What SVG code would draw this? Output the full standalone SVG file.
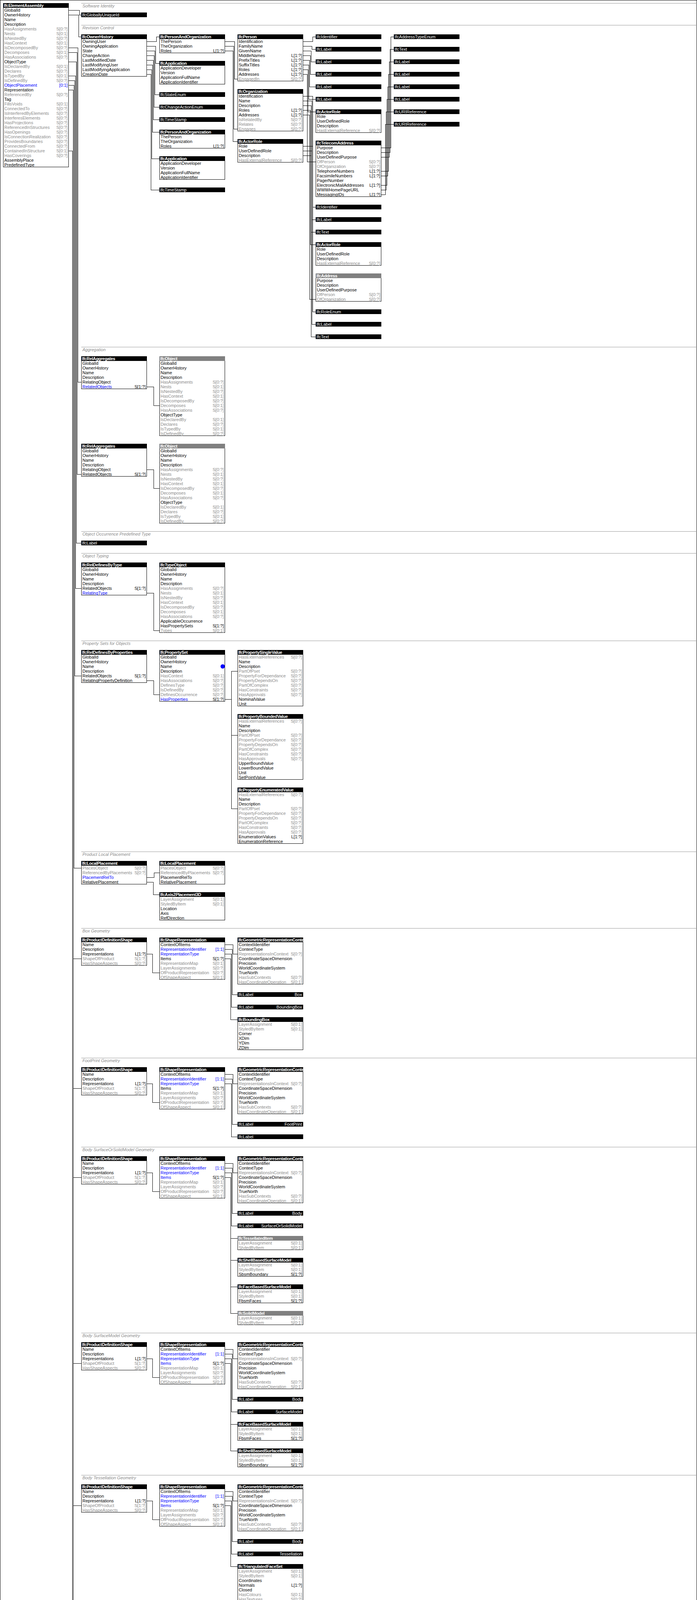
<svg xmlns="http://www.w3.org/2000/svg" width="1784" height="6164" viewBox="0 0 1784 6164">
<defs>
<style>
text{font-family:"Liberation Sans",Arial,sans-serif;font-size:11px;fill:#000}
.h{fill:#fff;font-weight:bold;letter-spacing:-0.35px}
.w{fill:#fff}
.g{fill:#8c8c8c}
.b{fill:#0000ff}
.r{text-anchor:end}
.s{fill:#8c8c8c;font-style:italic}
.bx{fill:#fff;stroke:#000;stroke-width:1}
.hg{fill:#808080}
.c{fill:none;stroke:#000;stroke-width:1}
.sl{fill:none;stroke:#999;stroke-width:1}
</style>
</defs>
<rect x="0" y="0" width="1784" height="6164" fill="#fff"/>
<rect x="0.5" y="0.5" width="1783" height="6163" fill="none" stroke="#000"/>

<g id="sections">
<path class="sl" d="M208 8.5H1784M208 64.5H1784M208 888.5H1784M208 1360.5H1784M208 1416.5H1784M208 1640.5H1784M208 2180.5H1784M208 2376.5H1784M208 2708.5H1784M208 2936.5H1784M208 3412.5H1784M208 3776.5H1784M208 4144.5H1784M208 4440.5H1784M208 4804.5H1784M208 5100.5H1784M208 5616.5H1784M208 5844.5H1784"/>
<text class="s" x="211" y="19">Software Identity</text>
<text class="s" x="211" y="75">Revision Control</text>
<text class="s" x="211" y="899">Aggregation</text>
<text class="s" x="211" y="1371">Object Occurrence Predefined Type</text>
<text class="s" x="211" y="1427">Object Typing</text>
<text class="s" x="211" y="1651">Property Sets for Objects</text>
<text class="s" x="211" y="2191">Product Local Placement</text>
<text class="s" x="211" y="2387">Box Geometry</text>
<text class="s" x="211" y="2719">FootPrint Geometry</text>
<text class="s" x="211" y="2947">Body SurfaceOrSolidModel Geometry</text>
<text class="s" x="211" y="3423">Body SurfaceModel Geometry</text>
<text class="s" x="211" y="3787">Body Tessellation Geometry</text>
<text class="s" x="211" y="4155">Body Brep Geometry</text>
<text class="s" x="211" y="4451">Body AdvancedBrep Geometry</text>
<text class="s" x="211" y="4815">Body CSG Geometry</text>
<text class="s" x="211" y="5111">Mapped Geometry</text>
<text class="s" x="211" y="5627">Mesh Geometry</text>
<text class="s" x="211" y="5855">Spatial Containment</text>
</g>

<g id="connectors" shape-rendering="crispEdges">
<path class="c" d="M176 26H203V38H208M176 38H201V94H208M176 122H199V978H208M176 134H197V1214H208M176 158H195V1390H208M176 194H193V1506H208M176 206H191V1730H208M176 218H189V2222H208M176 230H187V5694M176 386H185V5934H208"/>
<path class="c" d="M187 2454H208M187 2786H208M187 3014H208M187 3490H208M187 3854H208M187 4222H208M187 4518H208M187 4882H208M187 5178H208M187 5694H208"/>
<path class="c" d="M376 106H400V94H408M376 118H398V162H408M376 130H396V242H408M376 142H394V274H408M376 154H392V306H408M376 166H390V338H408M376 178H388V406H408M376 190H386V486H408"/>
<path class="c" d="M576 106H600V202H608M576 118H598V330H608M576 130H596V362H608"/>
<path class="c" d="M776 106H800V94H808M776 118H798V126H808M776 130H796V158H808M776 142H794V190H808M776 154H792V222H808M776 166H790V254H808M776 178H788V286H808M776 190H786V414H808"/>
<path class="c" d="M776 246H800V530H808M776 258H798V562H808M776 270H796V594H808M776 282H794V626H808M776 294H792V766H808"/>
<path class="c" d="M776 374H800V798H808M776 386H798V830H808M776 398H796V862H808"/>
<path class="c" d="M976 378H1000V94H1008M976 390H998V126H1008M976 402H996V158H1008M976 438H994V190H1008M976 450H992V222H1008M976 474H990V254H1008M976 486H988V286H1008M976 498H986V318H1008"/>
<path class="c" d="M376 990H393V1038H408M376 1202H393V1250H408M376 1518H393V1614H408M376 1742H393V1778H408M576 1790H592M592 1718V2070M592 1718H608M592 1882H608M592 2070H608"/>
<path class="c" d="M376 2246H394V2234H408M376 2258H392V2290H408"/>
<path class="c" d="M376 2442H390V2490H408M576 2418H596V2442H608M576 2430H594V2546H608M576 2442H592V2578H608M576 2454H590V2610H608"/>
<path class="c" d="M376 2774H390V2822H408M576 2750H596V2774H608M576 2762H594V2878H608M576 2774H592V2910H608"/>
<path class="c" d="M376 3002H390V3050H408M576 2978H596V3002H608M576 2990H594V3106H608M576 3002H592V3138H608M576 3014H590V3362H608M590 3170H608M590 3226H608M590 3294H608"/>
<path class="c" d="M376 3478H390V3526H408M576 3454H596V3478H608M576 3466H594V3582H608M576 3478H592V3614H608M576 3490H590V3714H608M590 3646H608"/>
<path class="c" d="M376 3842H390V3890H408M576 3818H596V3842H608M576 3830H594V3946H608M576 3842H592V3978H608M576 3854H590V4010H608"/>
<path class="c" d="M376 4210H390V4258H408M576 4186H596V4210H608M576 4198H594V4314H608M576 4210H592V4346H608M576 4222H590V4378H608"/>
<path class="c" d="M776 4414H792V4174H808M976 4210H992V4174H1008M1176 4210H1192V4174H1208M1376 4210H1394V4174H1408M1376 4222H1392V4242H1408M1576 4210H1592V4174H1608"/>
<path class="c" d="M376 4506H390V4554H408M576 4482H596V4506H608M576 4494H594V4610H608M576 4506H592V4642H608M576 4518H590V4742H608M590 4674H608"/>
<path class="c" d="M376 4870H390V4918H408M576 4846H596V4870H608M576 4858H594V4974H608M576 4870H592V5006H608M576 4882H590V5038H608"/>
<path class="c" d="M376 5166H390V5214H408M576 5142H596V5166H608M576 5154H594V5270H608M576 5166H592V5302H608M576 5178H590V5334H608"/>
<path class="c" d="M776 5370H792V5178H808M776 5382H794V5210H808M794 5326H808M976 5142H994V5130H1008M976 5154H992V5282H1008M1176 5166H1194V5130H1208M1176 5178H1192V5198H1208M1176 5190H1190V5266H1208"/>
<path class="c" d="M976 5246H997V5350H1008M976 5258H990V5418H1008M976 5270H988V5486H1008M976 5294H986V5554H1008"/>
<path class="c" d="M376 5682H390V5730H408M576 5658H596V5682H608M576 5670H594V5786H608M576 5682H592V5818H608"/>
<path class="c" d="M376 5946H393V6126H408"/>
</g>

<g id="n_root" transform="translate(8,8)"><svg width="168" height="420"><rect class="bx" x=".5" y=".5" width="167" height="419"/><rect width="168" height="12"/><text class="h" x="2" y="10">IfcElementAssembly</text>
<text x="3" y="22">GlobalId</text><text x="3" y="34">OwnerHistory</text><text x="3" y="46">Name</text><text x="3" y="58">Description</text>
<text class="g" x="3" y="70">HasAssignments</text><text class="g r" x="165" y="70">S[0:?]</text>
<text class="g" x="3" y="82">Nests</text><text class="g r" x="165" y="82">S[0:1]</text>
<text class="g" x="3" y="94">IsNestedBy</text><text class="g r" x="165" y="94">S[0:?]</text>
<text class="g" x="3" y="106">HasContext</text><text class="g r" x="165" y="106">S[0:1]</text>
<text class="g" x="3" y="118">IsDecomposedBy</text><text class="g r" x="165" y="118">S[0:?]</text>
<text class="g" x="3" y="130">Decomposes</text><text class="g r" x="165" y="130">S[0:1]</text>
<text class="g" x="3" y="142">HasAssociations</text><text class="g r" x="165" y="142">S[0:?]</text>
<text x="3" y="154">ObjectType</text>
<text class="g" x="3" y="166">IsDeclaredBy</text><text class="g r" x="165" y="166">S[0:1]</text>
<text class="g" x="3" y="178">Declares</text><text class="g r" x="165" y="178">S[0:?]</text>
<text class="g" x="3" y="190">IsTypedBy</text><text class="g r" x="165" y="190">S[0:1]</text>
<text class="g" x="3" y="202">IsDefinedBy</text><text class="g r" x="165" y="202">S[0:?]</text>
<text class="b" x="3" y="214">ObjectPlacement</text><text class="b r" x="165" y="214">[0:1]</text>
<text x="3" y="226">Representation</text>
<text class="g" x="3" y="238">ReferencedBy</text><text class="g r" x="165" y="238">S[0:?]</text>
<text x="3" y="250">Tag</text>
<text class="g" x="3" y="262">FillsVoids</text><text class="g r" x="165" y="262">S[0:1]</text>
<text class="g" x="3" y="274">ConnectedTo</text><text class="g r" x="165" y="274">S[0:?]</text>
<text class="g" x="3" y="286">IsInterferedByElements</text><text class="g r" x="165" y="286">S[0:?]</text>
<text class="g" x="3" y="298">InterferesElements</text><text class="g r" x="165" y="298">S[0:?]</text>
<text class="g" x="3" y="310">HasProjections</text><text class="g r" x="165" y="310">S[0:?]</text>
<text class="g" x="3" y="322">ReferencedInStructures</text><text class="g r" x="165" y="322">S[0:?]</text>
<text class="g" x="3" y="334">HasOpenings</text><text class="g r" x="165" y="334">S[0:?]</text>
<text class="g" x="3" y="346">IsConnectionRealization</text><text class="g r" x="165" y="346">S[0:?]</text>
<text class="g" x="3" y="358">ProvidesBoundaries</text><text class="g r" x="165" y="358">S[0:?]</text>
<text class="g" x="3" y="370">ConnectedFrom</text><text class="g r" x="165" y="370">S[0:?]</text>
<text class="g" x="3" y="382">ContainedInStructure</text><text class="g r" x="165" y="382">S[0:1]</text>
<text class="g" x="3" y="394">HasCoverings</text><text class="g r" x="165" y="394">S[0:?]</text>
<text x="3" y="406">AssemblyPlace</text><text x="3" y="418">PredefinedType</text>
</svg></g>

<g id="n_guid" transform="translate(208,32)"><rect width="168" height="12"/><text class="w" x="2" y="10">IfcGloballyUniqueId</text></g>

<g id="n_ownerhistory" transform="translate(208,88)"><svg width="168" height="108"><rect class="bx" x=".5" y=".5" width="167" height="107"/><rect width="168" height="12"/><text class="h" x="2" y="10">IfcOwnerHistory</text>
<text x="3" y="22">OwningUser</text><text x="3" y="34">OwningApplication</text><text x="3" y="46">State</text><text x="3" y="58">ChangeAction</text><text x="3" y="70">LastModifiedDate</text><text x="3" y="82">LastModifyingUser</text><text x="3" y="94">LastModifyingApplication</text><text x="3" y="106">CreationDate</text>
</svg></g>

<g id="n_pao1" transform="translate(408,88)"><svg width="168" height="48"><rect class="bx" x=".5" y=".5" width="167" height="47"/><rect width="168" height="12"/><text class="h" x="2" y="10">IfcPersonAndOrganization</text>
<text x="3" y="22">ThePerson</text><text x="3" y="34">TheOrganization</text><text x="3" y="46">Roles</text><text class="r" x="165" y="46">L[1:?]</text></svg></g>
<g id="n_app1" transform="translate(408,156)"><svg width="168" height="60"><rect class="bx" x=".5" y=".5" width="167" height="59"/><rect width="168" height="12"/><text class="h" x="2" y="10">IfcApplication</text>
<text x="3" y="22">ApplicationDeveloper</text><text x="3" y="34">Version</text><text x="3" y="46">ApplicationFullName</text><text x="3" y="58">ApplicationIdentifier</text></svg></g>
<g id="n_stateenum" transform="translate(408,236)"><rect width="168" height="12"/><text class="w" x="2" y="10">IfcStateEnum</text></g>
<g id="n_changeenum" transform="translate(408,268)"><rect width="168" height="12"/><text class="w" x="2" y="10">IfcChangeActionEnum</text></g>
<g id="n_ts1" transform="translate(408,300)"><rect width="168" height="12"/><text class="w" x="2" y="10">IfcTimeStamp</text></g>
<g id="n_pao2" transform="translate(408,332)"><svg width="168" height="48"><rect class="bx" x=".5" y=".5" width="167" height="47"/><rect width="168" height="12"/><text class="h" x="2" y="10">IfcPersonAndOrganization</text>
<text x="3" y="22">ThePerson</text><text x="3" y="34">TheOrganization</text><text x="3" y="46">Roles</text><text class="r" x="165" y="46">L[1:?]</text></svg></g>
<g id="n_app2" transform="translate(408,400)"><svg width="168" height="60"><rect class="bx" x=".5" y=".5" width="167" height="59"/><rect width="168" height="12"/><text class="h" x="2" y="10">IfcApplication</text>
<text x="3" y="22">ApplicationDeveloper</text><text x="3" y="34">Version</text><text x="3" y="46">ApplicationFullName</text><text x="3" y="58">ApplicationIdentifier</text></svg></g>
<g id="n_ts2" transform="translate(408,480)"><rect width="168" height="12"/><text class="w" x="2" y="10">IfcTimeStamp</text></g>

<g id="n_person" transform="translate(608,88)"><svg width="168" height="120"><rect class="bx" x=".5" y=".5" width="167" height="119"/><rect width="168" height="12"/><text class="h" x="2" y="10">IfcPerson</text>
<text x="3" y="22">Identification</text><text x="3" y="34">FamilyName</text><text x="3" y="46">GivenName</text>
<text x="3" y="58">MiddleNames</text><text class="r" x="165" y="58">L[1:?]</text>
<text x="3" y="70">PrefixTitles</text><text class="r" x="165" y="70">L[1:?]</text>
<text x="3" y="82">SuffixTitles</text><text class="r" x="165" y="82">L[1:?]</text>
<text x="3" y="94">Roles</text><text class="r" x="165" y="94">L[1:?]</text>
<text x="3" y="106">Addresses</text><text class="r" x="165" y="106">L[1:?]</text>
<text class="g" x="3" y="118">EngagedIn</text><text class="g r" x="165" y="118">S[0:?]</text></svg></g>
<g id="n_org" transform="translate(608,228)"><svg width="168" height="108"><rect class="bx" x=".5" y=".5" width="167" height="107"/><rect width="168" height="12"/><text class="h" x="2" y="10">IfcOrganization</text>
<text x="3" y="22">Identification</text><text x="3" y="34">Name</text><text x="3" y="46">Description</text>
<text x="3" y="58">Roles</text><text class="r" x="165" y="58">L[1:?]</text>
<text x="3" y="70">Addresses</text><text class="r" x="165" y="70">L[1:?]</text>
<text class="g" x="3" y="82">IsRelatedBy</text><text class="g r" x="165" y="82">S[0:?]</text>
<text class="g" x="3" y="94">Relates</text><text class="g r" x="165" y="94">S[0:?]</text>
<text class="g" x="3" y="106">Engages</text><text class="g r" x="165" y="106">S[0:?]</text></svg></g>
<g id="n_role1" transform="translate(608,356)"><svg width="168" height="60"><rect class="bx" x=".5" y=".5" width="167" height="59"/><rect width="168" height="12"/><text class="h" x="2" y="10">IfcActorRole</text>
<text x="3" y="22">Role</text><text x="3" y="34">UserDefinedRole</text><text x="3" y="46">Description</text><text class="g" x="3" y="58">HasExternalReference</text><text class="g r" x="165" y="58">S[0:?]</text></svg></g>

<g id="n_c4_id1" transform="translate(808,88)"><rect width="168" height="12"/><text class="w" x="2" y="10">IfcIdentifier</text></g>
<g id="n_c4_l1" transform="translate(808,120)"><rect width="168" height="12"/><text class="w" x="2" y="10">IfcLabel</text></g>
<g id="n_c4_l2" transform="translate(808,152)"><rect width="168" height="12"/><text class="w" x="2" y="10">IfcLabel</text></g>
<g id="n_c4_l3" transform="translate(808,184)"><rect width="168" height="12"/><text class="w" x="2" y="10">IfcLabel</text></g>
<g id="n_c4_l4" transform="translate(808,216)"><rect width="168" height="12"/><text class="w" x="2" y="10">IfcLabel</text></g>
<g id="n_c4_l5" transform="translate(808,248)"><rect width="168" height="12"/><text class="w" x="2" y="10">IfcLabel</text></g>
<g id="n_role2" transform="translate(808,280)"><svg width="168" height="60"><rect class="bx" x=".5" y=".5" width="167" height="59"/><rect width="168" height="12"/><text class="h" x="2" y="10">IfcActorRole</text>
<text x="3" y="22">Role</text><text x="3" y="34">UserDefinedRole</text><text x="3" y="46">Description</text><text class="g" x="3" y="58">HasExternalReference</text><text class="g r" x="165" y="58">S[0:?]</text></svg></g>
<g id="n_telecom" transform="translate(808,360)"><svg width="168" height="144"><rect class="bx" x=".5" y=".5" width="167" height="143"/><rect width="168" height="12"/><text class="h" x="2" y="10">IfcTelecomAddress</text>
<text x="3" y="22">Purpose</text><text x="3" y="34">Description</text><text x="3" y="46">UserDefinedPurpose</text>
<text class="g" x="3" y="58">OfPerson</text><text class="g r" x="165" y="58">S[0:?]</text>
<text class="g" x="3" y="70">OfOrganization</text><text class="g r" x="165" y="70">S[0:?]</text>
<text x="3" y="82">TelephoneNumbers</text><text class="r" x="165" y="82">L[1:?]</text>
<text x="3" y="94">FacsimileNumbers</text><text class="r" x="165" y="94">L[1:?]</text>
<text x="3" y="106">PagerNumber</text>
<text x="3" y="118">ElectronicMailAddresses</text><text class="r" x="165" y="118">L[1:?]</text>
<text x="3" y="130">WWWHomePageURL</text>
<text x="3" y="142">MessagingIDs</text><text class="r" x="165" y="142">L[1:?]</text></svg></g>
<g id="n_c4_id2" transform="translate(808,524)"><rect width="168" height="12"/><text class="w" x="2" y="10">IfcIdentifier</text></g>
<g id="n_c4_l6" transform="translate(808,556)"><rect width="168" height="12"/><text class="w" x="2" y="10">IfcLabel</text></g>
<g id="n_c4_t1" transform="translate(808,588)"><rect width="168" height="12"/><text class="w" x="2" y="10">IfcText</text></g>
<g id="n_role3" transform="translate(808,620)"><svg width="168" height="60"><rect class="bx" x=".5" y=".5" width="167" height="59"/><rect width="168" height="12"/><text class="h" x="2" y="10">IfcActorRole</text>
<text x="3" y="22">Role</text><text x="3" y="34">UserDefinedRole</text><text x="3" y="46">Description</text><text class="g" x="3" y="58">HasExternalReference</text><text class="g r" x="165" y="58">S[0:?]</text></svg></g>
<g id="n_address" transform="translate(808,700)"><svg width="168" height="72"><rect class="bx" x=".5" y=".5" width="167" height="71"/><rect class="hg" width="168" height="12"/><text class="h" x="2" y="10">IfcAddress</text>
<text x="3" y="22">Purpose</text><text x="3" y="34">Description</text><text x="3" y="46">UserDefinedPurpose</text>
<text class="g" x="3" y="58">OfPerson</text><text class="g r" x="165" y="58">S[0:?]</text>
<text class="g" x="3" y="70">OfOrganization</text><text class="g r" x="165" y="70">S[0:?]</text></svg></g>
<g id="n_roleenum" transform="translate(808,792)"><rect width="168" height="12"/><text class="w" x="2" y="10">IfcRoleEnum</text></g>
<g id="n_c4_l7" transform="translate(808,824)"><rect width="168" height="12"/><text class="w" x="2" y="10">IfcLabel</text></g>
<g id="n_c4_t2" transform="translate(808,856)"><rect width="168" height="12"/><text class="w" x="2" y="10">IfcText</text></g>

<g id="n_c5_ate" transform="translate(1008,88)"><rect width="168" height="12"/><text class="w" x="2" y="10">IfcAddressTypeEnum</text></g>
<g id="n_c5_t" transform="translate(1008,120)"><rect width="168" height="12"/><text class="w" x="2" y="10">IfcText</text></g>
<g id="n_c5_l1" transform="translate(1008,152)"><rect width="168" height="12"/><text class="w" x="2" y="10">IfcLabel</text></g>
<g id="n_c5_l2" transform="translate(1008,184)"><rect width="168" height="12"/><text class="w" x="2" y="10">IfcLabel</text></g>
<g id="n_c5_l3" transform="translate(1008,216)"><rect width="168" height="12"/><text class="w" x="2" y="10">IfcLabel</text></g>
<g id="n_c5_l4" transform="translate(1008,248)"><rect width="168" height="12"/><text class="w" x="2" y="10">IfcLabel</text></g>
<g id="n_c5_u1" transform="translate(1008,280)"><rect width="168" height="12"/><text class="w" x="2" y="10">IfcURIReference</text></g>
<g id="n_c5_u2" transform="translate(1008,312)"><rect width="168" height="12"/><text class="w" x="2" y="10">IfcURIReference</text></g>

<g id="n_relagg1" transform="translate(208,912)"><svg width="168" height="84"><rect class="bx" x=".5" y=".5" width="167" height="83"/><rect width="168" height="12"/><text class="h" x="2" y="10">IfcRelAggregates</text>
<text x="3" y="22">GlobalId</text><text x="3" y="34">OwnerHistory</text><text x="3" y="46">Name</text><text x="3" y="58">Description</text><text x="3" y="70">RelatingObject</text><text class="b" x="3" y="82">RelatedObjects</text><text class="r" x="165" y="82">S[1:?]</text></svg></g>
<g id="n_obj1" transform="translate(408,912)"><svg width="168" height="204"><rect class="bx" x=".5" y=".5" width="167" height="203"/><rect class="hg" width="168" height="12"/><text class="h" x="2" y="10">IfcObject</text>
<text x="3" y="22">GlobalId</text><text x="3" y="34">OwnerHistory</text><text x="3" y="46">Name</text><text x="3" y="58">Description</text>
<text class="g" x="3" y="70">HasAssignments</text><text class="g r" x="165" y="70">S[0:?]</text>
<text class="g" x="3" y="82">Nests</text><text class="g r" x="165" y="82">S[0:1]</text>
<text class="g" x="3" y="94">IsNestedBy</text><text class="g r" x="165" y="94">S[0:?]</text>
<text class="g" x="3" y="106">HasContext</text><text class="g r" x="165" y="106">S[0:1]</text>
<text class="g" x="3" y="118">IsDecomposedBy</text><text class="g r" x="165" y="118">S[0:?]</text>
<text class="g" x="3" y="130">Decomposes</text><text class="g r" x="165" y="130">S[0:1]</text>
<text class="g" x="3" y="142">HasAssociations</text><text class="g r" x="165" y="142">S[0:?]</text>
<text x="3" y="154">ObjectType</text>
<text class="g" x="3" y="166">IsDeclaredBy</text><text class="g r" x="165" y="166">S[0:1]</text>
<text class="g" x="3" y="178">Declares</text><text class="g r" x="165" y="178">S[0:?]</text>
<text class="g" x="3" y="190">IsTypedBy</text><text class="g r" x="165" y="190">S[0:1]</text>
<text class="g" x="3" y="202">IsDefinedBy</text><text class="g r" x="165" y="202">S[0:?]</text></svg></g>
<g id="n_relagg2" transform="translate(208,1136)"><svg width="168" height="84"><rect class="bx" x=".5" y=".5" width="167" height="83"/><rect width="168" height="12"/><text class="h" x="2" y="10">IfcRelAggregates</text>
<text x="3" y="22">GlobalId</text><text x="3" y="34">OwnerHistory</text><text x="3" y="46">Name</text><text x="3" y="58">Description</text><text x="3" y="70">RelatingObject</text><text x="3" y="82">RelatedObjects</text><text class="r" x="165" y="82">S[1:?]</text></svg></g>
<g id="n_obj2" transform="translate(408,1136)"><svg width="168" height="204"><rect class="bx" x=".5" y=".5" width="167" height="203"/><rect class="hg" width="168" height="12"/><text class="h" x="2" y="10">IfcObject</text>
<text x="3" y="22">GlobalId</text><text x="3" y="34">OwnerHistory</text><text x="3" y="46">Name</text><text x="3" y="58">Description</text>
<text class="g" x="3" y="70">HasAssignments</text><text class="g r" x="165" y="70">S[0:?]</text>
<text class="g" x="3" y="82">Nests</text><text class="g r" x="165" y="82">S[0:1]</text>
<text class="g" x="3" y="94">IsNestedBy</text><text class="g r" x="165" y="94">S[0:?]</text>
<text class="g" x="3" y="106">HasContext</text><text class="g r" x="165" y="106">S[0:1]</text>
<text class="g" x="3" y="118">IsDecomposedBy</text><text class="g r" x="165" y="118">S[0:?]</text>
<text class="g" x="3" y="130">Decomposes</text><text class="g r" x="165" y="130">S[0:1]</text>
<text class="g" x="3" y="142">HasAssociations</text><text class="g r" x="165" y="142">S[0:?]</text>
<text x="3" y="154">ObjectType</text>
<text class="g" x="3" y="166">IsDeclaredBy</text><text class="g r" x="165" y="166">S[0:1]</text>
<text class="g" x="3" y="178">Declares</text><text class="g r" x="165" y="178">S[0:?]</text>
<text class="g" x="3" y="190">IsTypedBy</text><text class="g r" x="165" y="190">S[0:1]</text>
<text class="g" x="3" y="202">IsDefinedBy</text><text class="g r" x="165" y="202">S[0:?]</text></svg></g>

<g id="n_ootype" transform="translate(208,1384)"><rect width="168" height="12"/><text class="w" x="2" y="10">IfcLabel</text></g>

<g id="n_reltype" transform="translate(208,1440)"><svg width="168" height="84"><rect class="bx" x=".5" y=".5" width="167" height="83"/><rect width="168" height="12"/><text class="h" x="2" y="10">IfcRelDefinesByType</text>
<text x="3" y="22">GlobalId</text><text x="3" y="34">OwnerHistory</text><text x="3" y="46">Name</text><text x="3" y="58">Description</text><text x="3" y="70">RelatedObjects</text><text class="r" x="165" y="70">S[1:?]</text><text class="b" x="3" y="82">RelatingType</text></svg></g>
<g id="n_typeobj" transform="translate(408,1440)"><svg width="168" height="180"><rect class="bx" x=".5" y=".5" width="167" height="179"/><rect width="168" height="12"/><text class="h" x="2" y="10">IfcTypeObject</text>
<text x="3" y="22">GlobalId</text><text x="3" y="34">OwnerHistory</text><text x="3" y="46">Name</text><text x="3" y="58">Description</text>
<text class="g" x="3" y="70">HasAssignments</text><text class="g r" x="165" y="70">S[0:?]</text>
<text class="g" x="3" y="82">Nests</text><text class="g r" x="165" y="82">S[0:1]</text>
<text class="g" x="3" y="94">IsNestedBy</text><text class="g r" x="165" y="94">S[0:?]</text>
<text class="g" x="3" y="106">HasContext</text><text class="g r" x="165" y="106">S[0:1]</text>
<text class="g" x="3" y="118">IsDecomposedBy</text><text class="g r" x="165" y="118">S[0:?]</text>
<text class="g" x="3" y="130">Decomposes</text><text class="g r" x="165" y="130">S[0:1]</text>
<text class="g" x="3" y="142">HasAssociations</text><text class="g r" x="165" y="142">S[0:?]</text>
<text x="3" y="154">ApplicableOccurrence</text>
<text x="3" y="166">HasPropertySets</text><text class="r" x="165" y="166">S[1:?]</text>
<text class="g" x="3" y="178">Types</text><text class="g r" x="165" y="178">S[0:1]</text></svg></g>

<g id="n_relprops" transform="translate(208,1664)"><svg width="168" height="84"><rect class="bx" x=".5" y=".5" width="167" height="83"/><rect width="168" height="12"/><text class="h" x="2" y="10">IfcRelDefinesByProperties</text>
<text x="3" y="22">GlobalId</text><text x="3" y="34">OwnerHistory</text><text x="3" y="46">Name</text><text x="3" y="58">Description</text><text x="3" y="70">RelatedObjects</text><text class="r" x="165" y="70">S[1:?]</text><text x="3" y="82">RelatingPropertyDefinition</text></svg></g>
<g id="n_pset" transform="translate(408,1664)"><svg width="168" height="132"><rect class="bx" x=".5" y=".5" width="167" height="131"/><rect width="168" height="12"/><text class="h" x="2" y="10">IfcPropertySet</text>
<text x="3" y="22">GlobalId</text><text x="3" y="34">OwnerHistory</text><text x="3" y="46">Name</text><circle cx="162" cy="42" r="5.5" fill="#0000ff"/><text x="3" y="58">Description</text>
<text class="g" x="3" y="70">HasContext</text><text class="g r" x="165" y="70">S[0:1]</text>
<text class="g" x="3" y="82">HasAssociations</text><text class="g r" x="165" y="82">S[0:?]</text>
<text class="g" x="3" y="94">DefinesType</text><text class="g r" x="165" y="94">S[0:?]</text>
<text class="g" x="3" y="106">IsDefinedBy</text><text class="g r" x="165" y="106">S[0:?]</text>
<text class="g" x="3" y="118">DefinesOccurrence</text><text class="g r" x="165" y="118">S[0:?]</text>
<text class="b" x="3" y="130">HasProperties</text><text class="r" x="165" y="130">S[1:?]</text></svg></g>
<g id="n_psingle" transform="translate(608,1664)"><svg width="168" height="144"><rect class="bx" x=".5" y=".5" width="167" height="143"/><rect width="168" height="12"/><text class="h" x="2" y="10">IfcPropertySingleValue</text>
<text class="g" x="3" y="22">HasExternalReferences</text><text class="g r" x="165" y="22">S[0:?]</text>
<text x="3" y="34">Name</text><text x="3" y="46">Description</text>
<text class="g" x="3" y="58">PartOfPset</text><text class="g r" x="165" y="58">S[0:?]</text>
<text class="g" x="3" y="70">PropertyForDependance</text><text class="g r" x="165" y="70">S[0:?]</text>
<text class="g" x="3" y="82">PropertyDependsOn</text><text class="g r" x="165" y="82">S[0:?]</text>
<text class="g" x="3" y="94">PartOfComplex</text><text class="g r" x="165" y="94">S[0:?]</text>
<text class="g" x="3" y="106">HasConstraints</text><text class="g r" x="165" y="106">S[0:?]</text>
<text class="g" x="3" y="118">HasApprovals</text><text class="g r" x="165" y="118">S[0:?]</text>
<text x="3" y="130">NominalValue</text><text x="3" y="142">Unit</text></svg></g>
<g id="n_pbounded" transform="translate(608,1828)"><svg width="168" height="168"><rect class="bx" x=".5" y=".5" width="167" height="167"/><rect width="168" height="12"/><text class="h" x="2" y="10">IfcPropertyBoundedValue</text>
<text class="g" x="3" y="22">HasExternalReferences</text><text class="g r" x="165" y="22">S[0:?]</text>
<text x="3" y="34">Name</text><text x="3" y="46">Description</text>
<text class="g" x="3" y="58">PartOfPset</text><text class="g r" x="165" y="58">S[0:?]</text>
<text class="g" x="3" y="70">PropertyForDependance</text><text class="g r" x="165" y="70">S[0:?]</text>
<text class="g" x="3" y="82">PropertyDependsOn</text><text class="g r" x="165" y="82">S[0:?]</text>
<text class="g" x="3" y="94">PartOfComplex</text><text class="g r" x="165" y="94">S[0:?]</text>
<text class="g" x="3" y="106">HasConstraints</text><text class="g r" x="165" y="106">S[0:?]</text>
<text class="g" x="3" y="118">HasApprovals</text><text class="g r" x="165" y="118">S[0:?]</text>
<text x="3" y="130">UpperBoundValue</text><text x="3" y="142">LowerBoundValue</text><text x="3" y="154">Unit</text><text x="3" y="166">SetPointValue</text></svg></g>
<g id="n_penum" transform="translate(608,2016)"><svg width="168" height="144"><rect class="bx" x=".5" y=".5" width="167" height="143"/><rect width="168" height="12"/><text class="h" x="2" y="10">IfcPropertyEnumeratedValue</text>
<text class="g" x="3" y="22">HasExternalReferences</text><text class="g r" x="165" y="22">S[0:?]</text>
<text x="3" y="34">Name</text><text x="3" y="46">Description</text>
<text class="g" x="3" y="58">PartOfPset</text><text class="g r" x="165" y="58">S[0:?]</text>
<text class="g" x="3" y="70">PropertyForDependance</text><text class="g r" x="165" y="70">S[0:?]</text>
<text class="g" x="3" y="82">PropertyDependsOn</text><text class="g r" x="165" y="82">S[0:?]</text>
<text class="g" x="3" y="94">PartOfComplex</text><text class="g r" x="165" y="94">S[0:?]</text>
<text class="g" x="3" y="106">HasConstraints</text><text class="g r" x="165" y="106">S[0:?]</text>
<text class="g" x="3" y="118">HasApprovals</text><text class="g r" x="165" y="118">S[0:?]</text>
<text x="3" y="130">EnumerationValues</text><text class="r" x="165" y="130">L[1:?]</text><text x="3" y="142">EnumerationReference</text></svg></g>

<g id="n_lp1" transform="translate(208,2204)"><svg width="168" height="60"><rect class="bx" x=".5" y=".5" width="167" height="59"/><rect width="168" height="12"/><text class="h" x="2" y="10">IfcLocalPlacement</text>
<text class="g" x="3" y="22">PlacesObject</text><text class="g r" x="165" y="22">S[0:?]</text>
<text class="g" x="3" y="34">ReferencedByPlacements</text><text class="g r" x="165" y="34">S[0:?]</text>
<text class="b" x="3" y="46">PlacementRelTo</text><text x="3" y="58">RelativePlacement</text></svg></g>
<g id="n_lp2" transform="translate(408,2204)"><svg width="168" height="60"><rect class="bx" x=".5" y=".5" width="167" height="59"/><rect width="168" height="12"/><text class="h" x="2" y="10">IfcLocalPlacement</text>
<text class="g" x="3" y="22">PlacesObject</text><text class="g r" x="165" y="22">S[0:?]</text>
<text class="g" x="3" y="34">ReferencedByPlacements</text><text class="g r" x="165" y="34">S[0:?]</text>
<text x="3" y="46">PlacementRelTo</text><text x="3" y="58">RelativePlacement</text></svg></g>
<g id="n_a2p1" transform="translate(408,2284)"><svg width="168" height="72"><rect class="bx" x=".5" y=".5" width="167" height="71"/><rect width="168" height="12"/><text class="h" x="2" y="10">IfcAxis2Placement3D</text>
<text class="g" x="3" y="22">LayerAssignment</text><text class="g r" x="165" y="22">S[0:1]</text>
<text class="g" x="3" y="34">StyledByItem</text><text class="g r" x="165" y="34">S[0:1]</text>
<text x="3" y="46">Location</text><text x="3" y="58">Axis</text><text x="3" y="70">RefDirection</text></svg></g>

<g id="n_pds_box" transform="translate(208,2400)"><svg width="168" height="72"><rect class="bx" x=".5" y=".5" width="167" height="71"/><rect width="168" height="12"/><text class="h" x="2" y="10">IfcProductDefinitionShape</text><text x="3" y="22">Name</text><text x="3" y="34">Description</text><text x="3" y="46">Representations</text><text class="r" x="165" y="46">L[1:?]</text><text class="g" x="3" y="58">ShapeOfProduct</text><text class="g r" x="165" y="58">S[1:?]</text><text class="g" x="3" y="70">HasShapeAspects</text><text class="g r" x="165" y="70">S[0:?]</text></svg></g>
<g id="n_sr_box" transform="translate(408,2400)"><svg width="168" height="108"><rect class="bx" x=".5" y=".5" width="167" height="107"/><rect width="168" height="12"/><text class="h" x="2" y="10">IfcShapeRepresentation</text><text x="3" y="22">ContextOfItems</text><text class="b" x="3" y="34">RepresentationIdentifier</text><text class="b r" x="165" y="34">[1:1]</text><text class="b" x="3" y="46">RepresentationType</text><text x="3" y="58">Items</text><text class="r" x="165" y="58">S[1:?]</text><text class="g" x="3" y="70">RepresentationMap</text><text class="g r" x="165" y="70">S[0:1]</text><text class="g" x="3" y="82">LayerAssignments</text><text class="g r" x="165" y="82">S[0:?]</text><text class="g" x="3" y="94">OfProductRepresentation</text><text class="g r" x="165" y="94">S[0:?]</text><text class="g" x="3" y="106">OfShapeAspect</text><text class="g r" x="165" y="106">S[0:1]</text></svg></g>
<g id="n_grc_box" transform="translate(608,2400)"><svg width="168" height="120"><rect class="bx" x=".5" y=".5" width="167" height="119"/><rect width="168" height="12"/><text class="h" x="2" y="10">IfcGeometricRepresentationContext</text><text x="3" y="22">ContextIdentifier</text><text x="3" y="34">ContextType</text><text class="g" x="3" y="46">RepresentationsInContext</text><text class="g r" x="165" y="46">S[0:?]</text><text x="3" y="58">CoordinateSpaceDimension</text><text x="3" y="70">Precision</text><text x="3" y="82">WorldCoordinateSystem</text><text x="3" y="94">TrueNorth</text><text class="g" x="3" y="106">HasSubContexts</text><text class="g r" x="165" y="106">S[0:?]</text><text class="g" x="3" y="118">HasCoordinateOperation</text><text class="g r" x="165" y="118">S[0:1]</text></svg></g>
<g id="n_lbl_box1" transform="translate(608,2540)"><rect width="168" height="12"/><text class="w" x="2" y="10">IfcLabel</text><text class="w r" x="165" y="10">Box</text></g>
<g id="n_lbl_box2" transform="translate(608,2572)"><rect width="168" height="12"/><text class="w" x="2" y="10">IfcLabel</text><text class="w r" x="165" y="10">BoundingBox</text></g>
<g id="n_bbox" transform="translate(608,2604)"><svg width="168" height="84"><rect class="bx" x=".5" y=".5" width="167" height="83"/><rect width="168" height="12"/><text class="h" x="2" y="10">IfcBoundingBox</text><text class="g" x="3" y="22">LayerAssignment</text><text class="g r" x="165" y="22">S[0:1]</text><text class="g" x="3" y="34">StyledByItem</text><text class="g r" x="165" y="34">S[0:1]</text><text x="3" y="46">Corner</text><text x="3" y="58">XDim</text><text x="3" y="70">YDim</text><text x="3" y="82">ZDim</text></svg></g>

<g id="n_pds_fp" transform="translate(208,2732)"><svg width="168" height="72"><rect class="bx" x=".5" y=".5" width="167" height="71"/><rect width="168" height="12"/><text class="h" x="2" y="10">IfcProductDefinitionShape</text><text x="3" y="22">Name</text><text x="3" y="34">Description</text><text x="3" y="46">Representations</text><text class="r" x="165" y="46">L[1:?]</text><text class="g" x="3" y="58">ShapeOfProduct</text><text class="g r" x="165" y="58">S[1:?]</text><text class="g" x="3" y="70">HasShapeAspects</text><text class="g r" x="165" y="70">S[0:?]</text></svg></g>
<g id="n_sr_fp" transform="translate(408,2732)"><svg width="168" height="108"><rect class="bx" x=".5" y=".5" width="167" height="107"/><rect width="168" height="12"/><text class="h" x="2" y="10">IfcShapeRepresentation</text><text x="3" y="22">ContextOfItems</text><text class="b" x="3" y="34">RepresentationIdentifier</text><text class="b r" x="165" y="34">[1:1]</text><text class="b" x="3" y="46">RepresentationType</text><text x="3" y="58">Items</text><text class="r" x="165" y="58">S[1:?]</text><text class="g" x="3" y="70">RepresentationMap</text><text class="g r" x="165" y="70">S[0:1]</text><text class="g" x="3" y="82">LayerAssignments</text><text class="g r" x="165" y="82">S[0:?]</text><text class="g" x="3" y="94">OfProductRepresentation</text><text class="g r" x="165" y="94">S[0:?]</text><text class="g" x="3" y="106">OfShapeAspect</text><text class="g r" x="165" y="106">S[0:1]</text></svg></g>
<g id="n_grc_fp" transform="translate(608,2732)"><svg width="168" height="120"><rect class="bx" x=".5" y=".5" width="167" height="119"/><rect width="168" height="12"/><text class="h" x="2" y="10">IfcGeometricRepresentationContext</text><text x="3" y="22">ContextIdentifier</text><text x="3" y="34">ContextType</text><text class="g" x="3" y="46">RepresentationsInContext</text><text class="g r" x="165" y="46">S[0:?]</text><text x="3" y="58">CoordinateSpaceDimension</text><text x="3" y="70">Precision</text><text x="3" y="82">WorldCoordinateSystem</text><text x="3" y="94">TrueNorth</text><text class="g" x="3" y="106">HasSubContexts</text><text class="g r" x="165" y="106">S[0:?]</text><text class="g" x="3" y="118">HasCoordinateOperation</text><text class="g r" x="165" y="118">S[0:1]</text></svg></g>
<g id="n_lbl_fp1" transform="translate(608,2872)"><rect width="168" height="12"/><text class="w" x="2" y="10">IfcLabel</text><text class="w r" x="165" y="10">FootPrint</text></g>
<g id="n_lbl_fp2" transform="translate(608,2904)"><rect width="168" height="12"/><text class="w" x="2" y="10">IfcLabel</text></g>

<g id="n_pds_sos" transform="translate(208,2960)"><svg width="168" height="72"><rect class="bx" x=".5" y=".5" width="167" height="71"/><rect width="168" height="12"/><text class="h" x="2" y="10">IfcProductDefinitionShape</text><text x="3" y="22">Name</text><text x="3" y="34">Description</text><text x="3" y="46">Representations</text><text class="r" x="165" y="46">L[1:?]</text><text class="g" x="3" y="58">ShapeOfProduct</text><text class="g r" x="165" y="58">S[1:?]</text><text class="g" x="3" y="70">HasShapeAspects</text><text class="g r" x="165" y="70">S[0:?]</text></svg></g>
<g id="n_sr_sos" transform="translate(408,2960)"><svg width="168" height="108"><rect class="bx" x=".5" y=".5" width="167" height="107"/><rect width="168" height="12"/><text class="h" x="2" y="10">IfcShapeRepresentation</text><text x="3" y="22">ContextOfItems</text><text class="b" x="3" y="34">RepresentationIdentifier</text><text class="b r" x="165" y="34">[1:1]</text><text class="b" x="3" y="46">RepresentationType</text><text class="b" x="3" y="58">Items</text><text class="r" x="165" y="58">S[1:?]</text><text class="g" x="3" y="70">RepresentationMap</text><text class="g r" x="165" y="70">S[0:1]</text><text class="g" x="3" y="82">LayerAssignments</text><text class="g r" x="165" y="82">S[0:?]</text><text class="g" x="3" y="94">OfProductRepresentation</text><text class="g r" x="165" y="94">S[0:?]</text><text class="g" x="3" y="106">OfShapeAspect</text><text class="g r" x="165" y="106">S[0:1]</text></svg></g>
<g id="n_grc_sos" transform="translate(608,2960)"><svg width="168" height="120"><rect class="bx" x=".5" y=".5" width="167" height="119"/><rect width="168" height="12"/><text class="h" x="2" y="10">IfcGeometricRepresentationContext</text><text x="3" y="22">ContextIdentifier</text><text x="3" y="34">ContextType</text><text class="g" x="3" y="46">RepresentationsInContext</text><text class="g r" x="165" y="46">S[0:?]</text><text x="3" y="58">CoordinateSpaceDimension</text><text x="3" y="70">Precision</text><text x="3" y="82">WorldCoordinateSystem</text><text x="3" y="94">TrueNorth</text><text class="g" x="3" y="106">HasSubContexts</text><text class="g r" x="165" y="106">S[0:?]</text><text class="g" x="3" y="118">HasCoordinateOperation</text><text class="g r" x="165" y="118">S[0:1]</text></svg></g>
<g id="n_lbl_sos1" transform="translate(608,3100)"><rect width="168" height="12"/><text class="w" x="2" y="10">IfcLabel</text><text class="w r" x="165" y="10">Body</text></g>
<g id="n_lbl_sos2" transform="translate(608,3132)"><rect width="168" height="12"/><text class="w" x="2" y="10">IfcLabel</text><text class="w r" x="165" y="10">SurfaceOrSolidModel</text></g>
<g id="n_tessitem" transform="translate(608,3164)"><svg width="168" height="36"><rect class="bx" x=".5" y=".5" width="167" height="35"/><rect class="hg" width="168" height="12"/><text class="h" x="2" y="10">IfcTessellatedItem</text><text class="g" x="3" y="22">LayerAssignment</text><text class="g r" x="165" y="22">S[0:1]</text><text class="g" x="3" y="34">StyledByItem</text><text class="g r" x="165" y="34">S[0:1]</text></svg></g>
<g id="n_sbsm1" transform="translate(608,3220)"><svg width="168" height="48"><rect class="bx" x=".5" y=".5" width="167" height="47"/><rect width="168" height="12"/><text class="h" x="2" y="10">IfcShellBasedSurfaceModel</text><text class="g" x="3" y="22">LayerAssignment</text><text class="g r" x="165" y="22">S[0:1]</text><text class="g" x="3" y="34">StyledByItem</text><text class="g r" x="165" y="34">S[0:1]</text><text x="3" y="46">SbsmBoundary</text><text class="r" x="165" y="46">S[1:?]</text></svg></g>
<g id="n_fbsm1" transform="translate(608,3288)"><svg width="168" height="48"><rect class="bx" x=".5" y=".5" width="167" height="47"/><rect width="168" height="12"/><text class="h" x="2" y="10">IfcFaceBasedSurfaceModel</text><text class="g" x="3" y="22">LayerAssignment</text><text class="g r" x="165" y="22">S[0:1]</text><text class="g" x="3" y="34">StyledByItem</text><text class="g r" x="165" y="34">S[0:1]</text><text x="3" y="46">FbsmFaces</text><text class="r" x="165" y="46">S[1:?]</text></svg></g>
<g id="n_solidmodel" transform="translate(608,3356)"><svg width="168" height="36"><rect class="bx" x=".5" y=".5" width="167" height="35"/><rect class="hg" width="168" height="12"/><text class="h" x="2" y="10">IfcSolidModel</text><text class="g" x="3" y="22">LayerAssignment</text><text class="g r" x="165" y="22">S[0:1]</text><text class="g" x="3" y="34">StyledByItem</text><text class="g r" x="165" y="34">S[0:1]</text></svg></g>

<g id="n_pds_sm" transform="translate(208,3436)"><svg width="168" height="72"><rect class="bx" x=".5" y=".5" width="167" height="71"/><rect width="168" height="12"/><text class="h" x="2" y="10">IfcProductDefinitionShape</text><text x="3" y="22">Name</text><text x="3" y="34">Description</text><text x="3" y="46">Representations</text><text class="r" x="165" y="46">L[1:?]</text><text class="g" x="3" y="58">ShapeOfProduct</text><text class="g r" x="165" y="58">S[1:?]</text><text class="g" x="3" y="70">HasShapeAspects</text><text class="g r" x="165" y="70">S[0:?]</text></svg></g>
<g id="n_sr_sm" transform="translate(408,3436)"><svg width="168" height="108"><rect class="bx" x=".5" y=".5" width="167" height="107"/><rect width="168" height="12"/><text class="h" x="2" y="10">IfcShapeRepresentation</text><text x="3" y="22">ContextOfItems</text><text class="b" x="3" y="34">RepresentationIdentifier</text><text class="b r" x="165" y="34">[1:1]</text><text class="b" x="3" y="46">RepresentationType</text><text class="b" x="3" y="58">Items</text><text class="r" x="165" y="58">S[1:?]</text><text class="g" x="3" y="70">RepresentationMap</text><text class="g r" x="165" y="70">S[0:1]</text><text class="g" x="3" y="82">LayerAssignments</text><text class="g r" x="165" y="82">S[0:?]</text><text class="g" x="3" y="94">OfProductRepresentation</text><text class="g r" x="165" y="94">S[0:?]</text><text class="g" x="3" y="106">OfShapeAspect</text><text class="g r" x="165" y="106">S[0:1]</text></svg></g>
<g id="n_grc_sm" transform="translate(608,3436)"><svg width="168" height="120"><rect class="bx" x=".5" y=".5" width="167" height="119"/><rect width="168" height="12"/><text class="h" x="2" y="10">IfcGeometricRepresentationContext</text><text x="3" y="22">ContextIdentifier</text><text x="3" y="34">ContextType</text><text class="g" x="3" y="46">RepresentationsInContext</text><text class="g r" x="165" y="46">S[0:?]</text><text x="3" y="58">CoordinateSpaceDimension</text><text x="3" y="70">Precision</text><text x="3" y="82">WorldCoordinateSystem</text><text x="3" y="94">TrueNorth</text><text class="g" x="3" y="106">HasSubContexts</text><text class="g r" x="165" y="106">S[0:?]</text><text class="g" x="3" y="118">HasCoordinateOperation</text><text class="g r" x="165" y="118">S[0:1]</text></svg></g>
<g id="n_lbl_sm1" transform="translate(608,3576)"><rect width="168" height="12"/><text class="w" x="2" y="10">IfcLabel</text><text class="w r" x="165" y="10">Body</text></g>
<g id="n_lbl_sm2" transform="translate(608,3608)"><rect width="168" height="12"/><text class="w" x="2" y="10">IfcLabel</text><text class="w r" x="165" y="10">SurfaceModel</text></g>
<g id="n_fbsm2" transform="translate(608,3640)"><svg width="168" height="48"><rect class="bx" x=".5" y=".5" width="167" height="47"/><rect width="168" height="12"/><text class="h" x="2" y="10">IfcFaceBasedSurfaceModel</text><text class="g" x="3" y="22">LayerAssignment</text><text class="g r" x="165" y="22">S[0:1]</text><text class="g" x="3" y="34">StyledByItem</text><text class="g r" x="165" y="34">S[0:1]</text><text x="3" y="46">FbsmFaces</text><text class="r" x="165" y="46">S[1:?]</text></svg></g>
<g id="n_sbsm2" transform="translate(608,3708)"><svg width="168" height="48"><rect class="bx" x=".5" y=".5" width="167" height="47"/><rect width="168" height="12"/><text class="h" x="2" y="10">IfcShellBasedSurfaceModel</text><text class="g" x="3" y="22">LayerAssignment</text><text class="g r" x="165" y="22">S[0:1]</text><text class="g" x="3" y="34">StyledByItem</text><text class="g r" x="165" y="34">S[0:1]</text><text x="3" y="46">SbsmBoundary</text><text class="r" x="165" y="46">S[1:?]</text></svg></g>

<g id="n_pds_tess" transform="translate(208,3800)"><svg width="168" height="72"><rect class="bx" x=".5" y=".5" width="167" height="71"/><rect width="168" height="12"/><text class="h" x="2" y="10">IfcProductDefinitionShape</text><text x="3" y="22">Name</text><text x="3" y="34">Description</text><text x="3" y="46">Representations</text><text class="r" x="165" y="46">L[1:?]</text><text class="g" x="3" y="58">ShapeOfProduct</text><text class="g r" x="165" y="58">S[1:?]</text><text class="g" x="3" y="70">HasShapeAspects</text><text class="g r" x="165" y="70">S[0:?]</text></svg></g>
<g id="n_sr_tess" transform="translate(408,3800)"><svg width="168" height="108"><rect class="bx" x=".5" y=".5" width="167" height="107"/><rect width="168" height="12"/><text class="h" x="2" y="10">IfcShapeRepresentation</text><text x="3" y="22">ContextOfItems</text><text class="b" x="3" y="34">RepresentationIdentifier</text><text class="b r" x="165" y="34">[1:1]</text><text class="b" x="3" y="46">RepresentationType</text><text class="b" x="3" y="58">Items</text><text class="r" x="165" y="58">S[1:?]</text><text class="g" x="3" y="70">RepresentationMap</text><text class="g r" x="165" y="70">S[0:1]</text><text class="g" x="3" y="82">LayerAssignments</text><text class="g r" x="165" y="82">S[0:?]</text><text class="g" x="3" y="94">OfProductRepresentation</text><text class="g r" x="165" y="94">S[0:?]</text><text class="g" x="3" y="106">OfShapeAspect</text><text class="g r" x="165" y="106">S[0:1]</text></svg></g>
<g id="n_grc_tess" transform="translate(608,3800)"><svg width="168" height="120"><rect class="bx" x=".5" y=".5" width="167" height="119"/><rect width="168" height="12"/><text class="h" x="2" y="10">IfcGeometricRepresentationContext</text><text x="3" y="22">ContextIdentifier</text><text x="3" y="34">ContextType</text><text class="g" x="3" y="46">RepresentationsInContext</text><text class="g r" x="165" y="46">S[0:?]</text><text x="3" y="58">CoordinateSpaceDimension</text><text x="3" y="70">Precision</text><text x="3" y="82">WorldCoordinateSystem</text><text x="3" y="94">TrueNorth</text><text class="g" x="3" y="106">HasSubContexts</text><text class="g r" x="165" y="106">S[0:?]</text><text class="g" x="3" y="118">HasCoordinateOperation</text><text class="g r" x="165" y="118">S[0:1]</text></svg></g>
<g id="n_lbl_tess1" transform="translate(608,3940)"><rect width="168" height="12"/><text class="w" x="2" y="10">IfcLabel</text><text class="w r" x="165" y="10">Body</text></g>
<g id="n_lbl_tess2" transform="translate(608,3972)"><rect width="168" height="12"/><text class="w" x="2" y="10">IfcLabel</text><text class="w r" x="165" y="10">Tessellation</text></g>
<g id="n_tfs" transform="translate(608,4004)"><svg width="168" height="120"><rect class="bx" x=".5" y=".5" width="167" height="119"/><rect width="168" height="12"/><text class="h" x="2" y="10">IfcTriangulatedFaceSet</text><text class="g" x="3" y="22">LayerAssignment</text><text class="g r" x="165" y="22">S[0:1]</text><text class="g" x="3" y="34">StyledByItem</text><text class="g r" x="165" y="34">S[0:1]</text><text x="3" y="46">Coordinates</text><text x="3" y="58">Normals</text><text class="r" x="165" y="58">L[1:?]</text><text x="3" y="70">Closed</text><text class="g" x="3" y="82">HasColours</text><text class="g r" x="165" y="82">S[0:1]</text><text class="g" x="3" y="94">HasTextures</text><text class="g r" x="165" y="94">S[0:?]</text><text x="3" y="106">CoordIndex</text><text class="r" x="165" y="106">L[1:?]</text><text x="3" y="118">NormalIndex</text><text class="r" x="165" y="118">L[1:?]</text></svg></g>

<g id="n_pds_brep" transform="translate(208,4168)"><svg width="168" height="72"><rect class="bx" x=".5" y=".5" width="167" height="71"/><rect width="168" height="12"/><text class="h" x="2" y="10">IfcProductDefinitionShape</text><text x="3" y="22">Name</text><text x="3" y="34">Description</text><text x="3" y="46">Representations</text><text class="r" x="165" y="46">L[1:?]</text><text class="g" x="3" y="58">ShapeOfProduct</text><text class="g r" x="165" y="58">S[1:?]</text><text class="g" x="3" y="70">HasShapeAspects</text><text class="g r" x="165" y="70">S[0:?]</text></svg></g>
<g id="n_sr_brep" transform="translate(408,4168)"><svg width="168" height="108"><rect class="bx" x=".5" y=".5" width="167" height="107"/><rect width="168" height="12"/><text class="h" x="2" y="10">IfcShapeRepresentation</text><text x="3" y="22">ContextOfItems</text><text class="b" x="3" y="34">RepresentationIdentifier</text><text class="b r" x="165" y="34">[1:1]</text><text class="b" x="3" y="46">RepresentationType</text><text class="b" x="3" y="58">Items</text><text class="r" x="165" y="58">S[1:?]</text><text class="g" x="3" y="70">RepresentationMap</text><text class="g r" x="165" y="70">S[0:1]</text><text class="g" x="3" y="82">LayerAssignments</text><text class="g r" x="165" y="82">S[0:?]</text><text class="g" x="3" y="94">OfProductRepresentation</text><text class="g r" x="165" y="94">S[0:?]</text><text class="g" x="3" y="106">OfShapeAspect</text><text class="g r" x="165" y="106">S[0:1]</text></svg></g>
<g id="n_grc_brep" transform="translate(608,4168)"><svg width="168" height="120"><rect class="bx" x=".5" y=".5" width="167" height="119"/><rect width="168" height="12"/><text class="h" x="2" y="10">IfcGeometricRepresentationContext</text><text x="3" y="22">ContextIdentifier</text><text x="3" y="34">ContextType</text><text class="g" x="3" y="46">RepresentationsInContext</text><text class="g r" x="165" y="46">S[0:?]</text><text x="3" y="58">CoordinateSpaceDimension</text><text x="3" y="70">Precision</text><text x="3" y="82">WorldCoordinateSystem</text><text x="3" y="94">TrueNorth</text><text class="g" x="3" y="106">HasSubContexts</text><text class="g r" x="165" y="106">S[0:?]</text><text class="g" x="3" y="118">HasCoordinateOperation</text><text class="g r" x="165" y="118">S[0:1]</text></svg></g>
<g id="n_lbl_brep1" transform="translate(608,4308)"><rect width="168" height="12"/><text class="w" x="2" y="10">IfcLabel</text><text class="w r" x="165" y="10">Body</text></g>
<g id="n_lbl_brep2" transform="translate(608,4340)"><rect width="168" height="12"/><text class="w" x="2" y="10">IfcLabel</text><text class="w r" x="165" y="10">Brep</text></g>
<g id="n_fbrep1" transform="translate(608,4372)"><svg width="168" height="48"><rect class="bx" x=".5" y=".5" width="167" height="47"/><rect width="168" height="12"/><text class="h" x="2" y="10">IfcFacetedBrep</text><text class="g" x="3" y="22">LayerAssignment</text><text class="g r" x="165" y="22">S[0:1]</text><text class="g" x="3" y="34">StyledByItem</text><text class="g r" x="165" y="34">S[0:1]</text><text x="3" y="46">Outer</text></svg></g>
<g id="n_closedshell" transform="translate(808,4168)"><svg width="168" height="48"><rect class="bx" x=".5" y=".5" width="167" height="47"/><rect width="168" height="12"/><text class="h" x="2" y="10">IfcClosedShell</text><text class="g" x="3" y="22">LayerAssignment</text><text class="g r" x="165" y="22">S[0:1]</text><text class="g" x="3" y="34">StyledByItem</text><text class="g r" x="165" y="34">S[0:1]</text><text x="3" y="46">CfsFaces</text><text class="r" x="165" y="46">S[1:?]</text></svg></g>
<g id="n_face" transform="translate(1008,4168)"><svg width="168" height="60"><rect class="bx" x=".5" y=".5" width="167" height="59"/><rect width="168" height="12"/><text class="h" x="2" y="10">IfcFace</text><text class="g" x="3" y="22">LayerAssignment</text><text class="g r" x="165" y="22">S[0:1]</text><text class="g" x="3" y="34">StyledByItem</text><text class="g r" x="165" y="34">S[0:1]</text><text x="3" y="46">Bounds</text><text class="r" x="165" y="46">S[1:?]</text><text class="g" x="3" y="58">HasTextureMaps</text><text class="g r" x="165" y="58">S[0:?]</text></svg></g>
<g id="n_faceouterbound" transform="translate(1208,4168)"><svg width="168" height="60"><rect class="bx" x=".5" y=".5" width="167" height="59"/><rect width="168" height="12"/><text class="h" x="2" y="10">IfcFaceOuterBound</text><text class="g" x="3" y="22">LayerAssignment</text><text class="g r" x="165" y="22">S[0:1]</text><text class="g" x="3" y="34">StyledByItem</text><text class="g r" x="165" y="34">S[0:1]</text><text x="3" y="46">Bound</text><text x="3" y="58">Orientation</text></svg></g>
<g id="n_polyloop" transform="translate(1408,4168)"><svg width="168" height="48"><rect class="bx" x=".5" y=".5" width="167" height="47"/><rect width="168" height="12"/><text class="h" x="2" y="10">IfcPolyLoop</text><text class="g" x="3" y="22">LayerAssignment</text><text class="g r" x="165" y="22">S[0:1]</text><text class="g" x="3" y="34">StyledByItem</text><text class="g r" x="165" y="34">S[0:1]</text><text x="3" y="46">Polygon</text><text class="r" x="165" y="46">L[3:?]</text></svg></g>
<g id="n_boolean" transform="translate(1408,4236)"><rect width="168" height="12"/><text class="w" x="2" y="10">IfcBoolean</text></g>
<g id="n_cp_brep" transform="translate(1608,4168)"><svg width="168" height="48"><rect class="bx" x=".5" y=".5" width="167" height="47"/><rect width="168" height="12"/><text class="h" x="2" y="10">IfcCartesianPoint</text><text class="g" x="3" y="22">LayerAssignment</text><text class="g r" x="165" y="22">S[0:1]</text><text class="g" x="3" y="34">StyledByItem</text><text class="g r" x="165" y="34">S[0:1]</text><text x="3" y="46">Coordinates</text><text class="r" x="165" y="46">L[1:3]</text></svg></g>

<g id="n_pds_ab" transform="translate(208,4464)"><svg width="168" height="72"><rect class="bx" x=".5" y=".5" width="167" height="71"/><rect width="168" height="12"/><text class="h" x="2" y="10">IfcProductDefinitionShape</text><text x="3" y="22">Name</text><text x="3" y="34">Description</text><text x="3" y="46">Representations</text><text class="r" x="165" y="46">L[1:?]</text><text class="g" x="3" y="58">ShapeOfProduct</text><text class="g r" x="165" y="58">S[1:?]</text><text class="g" x="3" y="70">HasShapeAspects</text><text class="g r" x="165" y="70">S[0:?]</text></svg></g>
<g id="n_sr_ab" transform="translate(408,4464)"><svg width="168" height="108"><rect class="bx" x=".5" y=".5" width="167" height="107"/><rect width="168" height="12"/><text class="h" x="2" y="10">IfcShapeRepresentation</text><text x="3" y="22">ContextOfItems</text><text class="b" x="3" y="34">RepresentationIdentifier</text><text class="b r" x="165" y="34">[1:1]</text><text class="b" x="3" y="46">RepresentationType</text><text class="b" x="3" y="58">Items</text><text class="r" x="165" y="58">S[1:?]</text><text class="g" x="3" y="70">RepresentationMap</text><text class="g r" x="165" y="70">S[0:1]</text><text class="g" x="3" y="82">LayerAssignments</text><text class="g r" x="165" y="82">S[0:?]</text><text class="g" x="3" y="94">OfProductRepresentation</text><text class="g r" x="165" y="94">S[0:?]</text><text class="g" x="3" y="106">OfShapeAspect</text><text class="g r" x="165" y="106">S[0:1]</text></svg></g>
<g id="n_grc_ab" transform="translate(608,4464)"><svg width="168" height="120"><rect class="bx" x=".5" y=".5" width="167" height="119"/><rect width="168" height="12"/><text class="h" x="2" y="10">IfcGeometricRepresentationContext</text><text x="3" y="22">ContextIdentifier</text><text x="3" y="34">ContextType</text><text class="g" x="3" y="46">RepresentationsInContext</text><text class="g r" x="165" y="46">S[0:?]</text><text x="3" y="58">CoordinateSpaceDimension</text><text x="3" y="70">Precision</text><text x="3" y="82">WorldCoordinateSystem</text><text x="3" y="94">TrueNorth</text><text class="g" x="3" y="106">HasSubContexts</text><text class="g r" x="165" y="106">S[0:?]</text><text class="g" x="3" y="118">HasCoordinateOperation</text><text class="g r" x="165" y="118">S[0:1]</text></svg></g>
<g id="n_lbl_ab1" transform="translate(608,4604)"><rect width="168" height="12"/><text class="w" x="2" y="10">IfcLabel</text><text class="w r" x="165" y="10">Body</text></g>
<g id="n_lbl_ab2" transform="translate(608,4636)"><rect width="168" height="12"/><text class="w" x="2" y="10">IfcLabel</text><text class="w r" x="165" y="10">AdvancedBrep</text></g>
<g id="n_advbrep" transform="translate(608,4668)"><svg width="168" height="48"><rect class="bx" x=".5" y=".5" width="167" height="47"/><rect width="168" height="12"/><text class="h" x="2" y="10">IfcAdvancedBrep</text><text class="g" x="3" y="22">LayerAssignment</text><text class="g r" x="165" y="22">S[0:1]</text><text class="g" x="3" y="34">StyledByItem</text><text class="g r" x="165" y="34">S[0:1]</text><text x="3" y="46">Outer</text></svg></g>
<g id="n_fbrep2" transform="translate(608,4736)"><svg width="168" height="48"><rect class="bx" x=".5" y=".5" width="167" height="47"/><rect width="168" height="12"/><text class="h" x="2" y="10">IfcFacetedBrep</text><text class="g" x="3" y="22">LayerAssignment</text><text class="g r" x="165" y="22">S[0:1]</text><text class="g" x="3" y="34">StyledByItem</text><text class="g r" x="165" y="34">S[0:1]</text><text x="3" y="46">Outer</text></svg></g>

<g id="n_pds_csg" transform="translate(208,4828)"><svg width="168" height="72"><rect class="bx" x=".5" y=".5" width="167" height="71"/><rect width="168" height="12"/><text class="h" x="2" y="10">IfcProductDefinitionShape</text><text x="3" y="22">Name</text><text x="3" y="34">Description</text><text x="3" y="46">Representations</text><text class="r" x="165" y="46">L[1:?]</text><text class="g" x="3" y="58">ShapeOfProduct</text><text class="g r" x="165" y="58">S[1:?]</text><text class="g" x="3" y="70">HasShapeAspects</text><text class="g r" x="165" y="70">S[0:?]</text></svg></g>
<g id="n_sr_csg" transform="translate(408,4828)"><svg width="168" height="108"><rect class="bx" x=".5" y=".5" width="167" height="107"/><rect width="168" height="12"/><text class="h" x="2" y="10">IfcShapeRepresentation</text><text x="3" y="22">ContextOfItems</text><text class="b" x="3" y="34">RepresentationIdentifier</text><text class="b r" x="165" y="34">[1:1]</text><text class="b" x="3" y="46">RepresentationType</text><text x="3" y="58">Items</text><text class="r" x="165" y="58">S[1:?]</text><text class="g" x="3" y="70">RepresentationMap</text><text class="g r" x="165" y="70">S[0:1]</text><text class="g" x="3" y="82">LayerAssignments</text><text class="g r" x="165" y="82">S[0:?]</text><text class="g" x="3" y="94">OfProductRepresentation</text><text class="g r" x="165" y="94">S[0:?]</text><text class="g" x="3" y="106">OfShapeAspect</text><text class="g r" x="165" y="106">S[0:1]</text></svg></g>
<g id="n_grc_csg" transform="translate(608,4828)"><svg width="168" height="120"><rect class="bx" x=".5" y=".5" width="167" height="119"/><rect width="168" height="12"/><text class="h" x="2" y="10">IfcGeometricRepresentationContext</text><text x="3" y="22">ContextIdentifier</text><text x="3" y="34">ContextType</text><text class="g" x="3" y="46">RepresentationsInContext</text><text class="g r" x="165" y="46">S[0:?]</text><text x="3" y="58">CoordinateSpaceDimension</text><text x="3" y="70">Precision</text><text x="3" y="82">WorldCoordinateSystem</text><text x="3" y="94">TrueNorth</text><text class="g" x="3" y="106">HasSubContexts</text><text class="g r" x="165" y="106">S[0:?]</text><text class="g" x="3" y="118">HasCoordinateOperation</text><text class="g r" x="165" y="118">S[0:1]</text></svg></g>
<g id="n_lbl_csg1" transform="translate(608,4968)"><rect width="168" height="12"/><text class="w" x="2" y="10">IfcLabel</text><text class="w r" x="165" y="10">Body</text></g>
<g id="n_lbl_csg2" transform="translate(608,5000)"><rect width="168" height="12"/><text class="w" x="2" y="10">IfcLabel</text><text class="w r" x="165" y="10">CSG</text></g>
<g id="n_csgsolid" transform="translate(608,5032)"><svg width="168" height="48"><rect class="bx" x=".5" y=".5" width="167" height="47"/><rect width="168" height="12"/><text class="h" x="2" y="10">IfcCsgSolid</text><text class="g" x="3" y="22">LayerAssignment</text><text class="g r" x="165" y="22">S[0:1]</text><text class="g" x="3" y="34">StyledByItem</text><text class="g r" x="165" y="34">S[0:1]</text><text x="3" y="46">TreeRootExpression</text></svg></g>

<g id="n_pds_map" transform="translate(208,5124)"><svg width="168" height="72"><rect class="bx" x=".5" y=".5" width="167" height="71"/><rect width="168" height="12"/><text class="h" x="2" y="10">IfcProductDefinitionShape</text><text x="3" y="22">Name</text><text x="3" y="34">Description</text><text x="3" y="46">Representations</text><text class="r" x="165" y="46">L[1:?]</text><text class="g" x="3" y="58">ShapeOfProduct</text><text class="g r" x="165" y="58">S[1:?]</text><text class="g" x="3" y="70">HasShapeAspects</text><text class="g r" x="165" y="70">S[0:?]</text></svg></g>
<g id="n_sr_map" transform="translate(408,5124)"><svg width="168" height="108"><rect class="bx" x=".5" y=".5" width="167" height="107"/><rect width="168" height="12"/><text class="h" x="2" y="10">IfcShapeRepresentation</text><text x="3" y="22">ContextOfItems</text><text class="b" x="3" y="34">RepresentationIdentifier</text><text class="b r" x="165" y="34">[1:1]</text><text class="b" x="3" y="46">RepresentationType</text><text x="3" y="58">Items</text><text class="r" x="165" y="58">S[1:?]</text><text class="g" x="3" y="70">RepresentationMap</text><text class="g r" x="165" y="70">S[0:1]</text><text class="g" x="3" y="82">LayerAssignments</text><text class="g r" x="165" y="82">S[0:?]</text><text class="g" x="3" y="94">OfProductRepresentation</text><text class="g r" x="165" y="94">S[0:?]</text><text class="g" x="3" y="106">OfShapeAspect</text><text class="g r" x="165" y="106">S[0:1]</text></svg></g>
<g id="n_grc_map" transform="translate(608,5124)"><svg width="168" height="120"><rect class="bx" x=".5" y=".5" width="167" height="119"/><rect width="168" height="12"/><text class="h" x="2" y="10">IfcGeometricRepresentationContext</text><text x="3" y="22">ContextIdentifier</text><text x="3" y="34">ContextType</text><text class="g" x="3" y="46">RepresentationsInContext</text><text class="g r" x="165" y="46">S[0:?]</text><text x="3" y="58">CoordinateSpaceDimension</text><text x="3" y="70">Precision</text><text x="3" y="82">WorldCoordinateSystem</text><text x="3" y="94">TrueNorth</text><text class="g" x="3" y="106">HasSubContexts</text><text class="g r" x="165" y="106">S[0:?]</text><text class="g" x="3" y="118">HasCoordinateOperation</text><text class="g r" x="165" y="118">S[0:1]</text></svg></g>
<g id="n_lbl_map1" transform="translate(608,5264)"><rect width="168" height="12"/><text class="w" x="2" y="10">IfcLabel</text></g>
<g id="n_lbl_map2" transform="translate(608,5296)"><rect width="168" height="12"/><text class="w" x="2" y="10">IfcLabel</text></g>
<g id="n_mappeditem" transform="translate(608,5328)"><svg width="168" height="60"><rect class="bx" x=".5" y=".5" width="167" height="59"/><rect width="168" height="12"/><text class="h" x="2" y="10">IfcMappedItem</text><text class="g" x="3" y="22">LayerAssignment</text><text class="g r" x="165" y="22">S[0:1]</text><text class="g" x="3" y="34">StyledByItem</text><text class="g r" x="165" y="34">S[0:1]</text><text x="3" y="46">MappingSource</text><text x="3" y="58">MappingTarget</text></svg></g>
<g id="n_repmap" transform="translate(808,5124)"><svg width="168" height="60"><rect class="bx" x=".5" y=".5" width="167" height="59"/><rect width="168" height="12"/><text class="h" x="2" y="10">IfcRepresentationMap</text><text x="3" y="22">MappingOrigin</text><text x="3" y="34">MappedRepresentation</text><text class="g" x="3" y="46">HasShapeAspects</text><text class="g r" x="165" y="46">S[0:?]</text><text class="g" x="3" y="58">MapUsage</text><text class="g r" x="165" y="58">S[0:?]</text></svg></g>
<g id="n_cto3d" transform="translate(808,5204)"><svg width="168" height="96"><rect class="bx" x=".5" y=".5" width="167" height="95"/><rect width="168" height="12"/><text class="h" x="2" y="10">IfcCartesianTransformationOperator3D</text><text class="g" x="3" y="22">LayerAssignment</text><text class="g r" x="165" y="22">S[0:1]</text><text class="g" x="3" y="34">StyledByItem</text><text class="g r" x="165" y="34">S[0:1]</text><text x="3" y="46">Axis1</text><text x="3" y="58">Axis2</text><text x="3" y="70">LocalOrigin</text><text x="3" y="82">Scale</text><text x="3" y="94">Axis3</text></svg></g>
<g id="n_cto3dnu" transform="translate(808,5320)"><svg width="168" height="120"><rect class="bx" x=".5" y=".5" width="167" height="119"/><rect width="168" height="12"/><text class="h" x="2" y="10">IfcCartesianTransformationOperator3DnonUniform</text><text class="g" x="3" y="22">LayerAssignment</text><text class="g r" x="165" y="22">S[0:1]</text><text class="g" x="3" y="34">StyledByItem</text><text class="g r" x="165" y="34">S[0:1]</text><text x="3" y="46">Axis1</text><text x="3" y="58">Axis2</text><text x="3" y="70">LocalOrigin</text><text x="3" y="82">Scale</text><text x="3" y="94">Axis3</text><text x="3" y="106">Scale2</text><text x="3" y="118">Scale3</text></svg></g>
<g id="n_a2p_map" transform="translate(1008,5124)"><svg width="168" height="72"><rect class="bx" x=".5" y=".5" width="167" height="71"/><rect width="168" height="12"/><text class="h" x="2" y="10">IfcAxis2Placement3D</text><text class="g" x="3" y="22">LayerAssignment</text><text class="g r" x="165" y="22">S[0:1]</text><text class="g" x="3" y="34">StyledByItem</text><text class="g r" x="165" y="34">S[0:1]</text><text x="3" y="46">Location</text><text x="3" y="58">Axis</text><text x="3" y="70">RefDirection</text></svg></g>
<g id="n_sr_map2" transform="translate(1008,5216)"><svg width="168" height="108"><rect class="bx" x=".5" y=".5" width="167" height="107"/><rect width="168" height="12"/><text class="h" x="2" y="10">IfcShapeRepresentation</text><text x="3" y="22">ContextOfItems</text><text x="3" y="34">RepresentationIdentifier</text><text x="3" y="46">RepresentationType</text><text x="3" y="58">Items</text><text class="r" x="165" y="58">S[1:?]</text><text class="g" x="3" y="70">RepresentationMap</text><text class="g r" x="165" y="70">S[0:1]</text><text class="g" x="3" y="82">LayerAssignments</text><text class="g r" x="165" y="82">S[0:?]</text><text class="g" x="3" y="94">OfProductRepresentation</text><text class="g r" x="165" y="94">S[0:?]</text><text class="g" x="3" y="106">OfShapeAspect</text><text class="g r" x="165" y="106">S[0:1]</text></svg></g>
<g id="n_dir_op1" transform="translate(1008,5344)"><svg width="168" height="48"><rect class="bx" x=".5" y=".5" width="167" height="47"/><rect width="168" height="12"/><text class="h" x="2" y="10">IfcDirection</text><text class="g" x="3" y="22">LayerAssignment</text><text class="g r" x="165" y="22">S[0:1]</text><text class="g" x="3" y="34">StyledByItem</text><text class="g r" x="165" y="34">S[0:1]</text><text x="3" y="46">DirectionRatios</text><text class="r" x="165" y="46">L[2:3]</text></svg></g>
<g id="n_dir_op2" transform="translate(1008,5412)"><svg width="168" height="48"><rect class="bx" x=".5" y=".5" width="167" height="47"/><rect width="168" height="12"/><text class="h" x="2" y="10">IfcDirection</text><text class="g" x="3" y="22">LayerAssignment</text><text class="g r" x="165" y="22">S[0:1]</text><text class="g" x="3" y="34">StyledByItem</text><text class="g r" x="165" y="34">S[0:1]</text><text x="3" y="46">DirectionRatios</text><text class="r" x="165" y="46">L[2:3]</text></svg></g>
<g id="n_cp_op" transform="translate(1008,5480)"><svg width="168" height="48"><rect class="bx" x=".5" y=".5" width="167" height="47"/><rect width="168" height="12"/><text class="h" x="2" y="10">IfcCartesianPoint</text><text class="g" x="3" y="22">LayerAssignment</text><text class="g r" x="165" y="22">S[0:1]</text><text class="g" x="3" y="34">StyledByItem</text><text class="g r" x="165" y="34">S[0:1]</text><text x="3" y="46">Coordinates</text><text class="r" x="165" y="46">L[1:3]</text></svg></g>
<g id="n_dir_op3" transform="translate(1008,5548)"><svg width="168" height="48"><rect class="bx" x=".5" y=".5" width="167" height="47"/><rect width="168" height="12"/><text class="h" x="2" y="10">IfcDirection</text><text class="g" x="3" y="22">LayerAssignment</text><text class="g r" x="165" y="22">S[0:1]</text><text class="g" x="3" y="34">StyledByItem</text><text class="g r" x="165" y="34">S[0:1]</text><text x="3" y="46">DirectionRatios</text><text class="r" x="165" y="46">L[2:3]</text></svg></g>
<g id="n_cp_map" transform="translate(1208,5124)"><svg width="168" height="48"><rect class="bx" x=".5" y=".5" width="167" height="47"/><rect width="168" height="12"/><text class="h" x="2" y="10">IfcCartesianPoint</text><text class="g" x="3" y="22">LayerAssignment</text><text class="g r" x="165" y="22">S[0:1]</text><text class="g" x="3" y="34">StyledByItem</text><text class="g r" x="165" y="34">S[0:1]</text><text x="3" y="46">Coordinates</text><text class="r" x="165" y="46">L[1:3]</text></svg></g>
<g id="n_dir_map1" transform="translate(1208,5192)"><svg width="168" height="48"><rect class="bx" x=".5" y=".5" width="167" height="47"/><rect width="168" height="12"/><text class="h" x="2" y="10">IfcDirection</text><text class="g" x="3" y="22">LayerAssignment</text><text class="g r" x="165" y="22">S[0:1]</text><text class="g" x="3" y="34">StyledByItem</text><text class="g r" x="165" y="34">S[0:1]</text><text x="3" y="46">DirectionRatios</text><text class="r" x="165" y="46">L[2:3]</text></svg></g>
<g id="n_dir_map2" transform="translate(1208,5260)"><svg width="168" height="48"><rect class="bx" x=".5" y=".5" width="167" height="47"/><rect width="168" height="12"/><text class="h" x="2" y="10">IfcDirection</text><text class="g" x="3" y="22">LayerAssignment</text><text class="g r" x="165" y="22">S[0:1]</text><text class="g" x="3" y="34">StyledByItem</text><text class="g r" x="165" y="34">S[0:1]</text><text x="3" y="46">DirectionRatios</text><text class="r" x="165" y="46">L[2:3]</text></svg></g>

<g id="n_pds_mesh" transform="translate(208,5640)"><svg width="168" height="72"><rect class="bx" x=".5" y=".5" width="167" height="71"/><rect width="168" height="12"/><text class="h" x="2" y="10">IfcProductDefinitionShape</text><text x="3" y="22">Name</text><text x="3" y="34">Description</text><text x="3" y="46">Representations</text><text class="r" x="165" y="46">L[1:?]</text><text class="g" x="3" y="58">ShapeOfProduct</text><text class="g r" x="165" y="58">S[1:?]</text><text class="g" x="3" y="70">HasShapeAspects</text><text class="g r" x="165" y="70">S[0:?]</text></svg></g>
<g id="n_sr_mesh" transform="translate(408,5640)"><svg width="168" height="108"><rect class="bx" x=".5" y=".5" width="167" height="107"/><rect width="168" height="12"/><text class="h" x="2" y="10">IfcShapeRepresentation</text><text x="3" y="22">ContextOfItems</text><text class="b" x="3" y="34">RepresentationIdentifier</text><text class="b r" x="165" y="34">[1:1]</text><text class="b" x="3" y="46">RepresentationType</text><text x="3" y="58">Items</text><text class="r" x="165" y="58">S[1:?]</text><text class="g" x="3" y="70">RepresentationMap</text><text class="g r" x="165" y="70">S[0:1]</text><text class="g" x="3" y="82">LayerAssignments</text><text class="g r" x="165" y="82">S[0:?]</text><text class="g" x="3" y="94">OfProductRepresentation</text><text class="g r" x="165" y="94">S[0:?]</text><text class="g" x="3" y="106">OfShapeAspect</text><text class="g r" x="165" y="106">S[0:1]</text></svg></g>
<g id="n_grc_mesh" transform="translate(608,5640)"><svg width="168" height="120"><rect class="bx" x=".5" y=".5" width="167" height="119"/><rect width="168" height="12"/><text class="h" x="2" y="10">IfcGeometricRepresentationContext</text><text x="3" y="22">ContextIdentifier</text><text x="3" y="34">ContextType</text><text class="g" x="3" y="46">RepresentationsInContext</text><text class="g r" x="165" y="46">S[0:?]</text><text x="3" y="58">CoordinateSpaceDimension</text><text x="3" y="70">Precision</text><text x="3" y="82">WorldCoordinateSystem</text><text x="3" y="94">TrueNorth</text><text class="g" x="3" y="106">HasSubContexts</text><text class="g r" x="165" y="106">S[0:?]</text><text class="g" x="3" y="118">HasCoordinateOperation</text><text class="g r" x="165" y="118">S[0:1]</text></svg></g>
<g id="n_lbl_mesh1" transform="translate(608,5780)"><rect width="168" height="12"/><text class="w" x="2" y="10">IfcLabel</text></g>
<g id="n_lbl_mesh2" transform="translate(608,5812)"><rect width="168" height="12"/><text class="w" x="2" y="10">IfcLabel</text></g>

<g id="n_relcont" transform="translate(208,5868)"><svg width="168" height="84"><rect class="bx" x=".5" y=".5" width="167" height="83"/><rect width="168" height="12"/><text class="h" x="2" y="10">IfcRelContainedInSpatialStructure</text>
<text x="3" y="22">GlobalId</text><text x="3" y="34">OwnerHistory</text><text x="3" y="46">Name</text><text x="3" y="58">Description</text><text x="3" y="70">RelatedElements</text><text class="r" x="165" y="70">S[1:?]</text><text class="b" x="3" y="82">RelatingStructure</text></svg></g>
<g id="n_spatial" transform="translate(408,5868)"><svg width="168" height="288"><rect class="bx" x=".5" y=".5" width="167" height="287"/><rect class="hg" width="168" height="12"/><text class="h" x="2" y="10">IfcSpatialElement</text>
<text x="3" y="22">GlobalId</text><text x="3" y="34">OwnerHistory</text><text x="3" y="46">Name</text><text x="3" y="58">Description</text>
<text class="g" x="3" y="70">HasAssignments</text><text class="g r" x="165" y="70">S[0:?]</text>
<text class="g" x="3" y="82">Nests</text><text class="g r" x="165" y="82">S[0:1]</text>
<text class="g" x="3" y="94">IsNestedBy</text><text class="g r" x="165" y="94">S[0:?]</text>
<text class="g" x="3" y="106">HasContext</text><text class="g r" x="165" y="106">S[0:1]</text>
<text class="g" x="3" y="118">IsDecomposedBy</text><text class="g r" x="165" y="118">S[0:?]</text>
<text class="g" x="3" y="130">Decomposes</text><text class="g r" x="165" y="130">S[0:1]</text>
<text class="g" x="3" y="142">HasAssociations</text><text class="g r" x="165" y="142">S[0:?]</text>
<text x="3" y="154">ObjectType</text>
<text class="g" x="3" y="166">IsDeclaredBy</text><text class="g r" x="165" y="166">S[0:1]</text>
<text class="g" x="3" y="178">Declares</text><text class="g r" x="165" y="178">S[0:?]</text>
<text class="g" x="3" y="190">IsTypedBy</text><text class="g r" x="165" y="190">S[0:1]</text>
<text class="g" x="3" y="202">IsDefinedBy</text><text class="g r" x="165" y="202">S[0:?]</text>
<text x="3" y="214">ObjectPlacement</text><text x="3" y="226">Representation</text>
<text class="g" x="3" y="238">ReferencedBy</text><text class="g r" x="165" y="238">S[0:?]</text>
<text x="3" y="250">LongName</text>
<text class="g" x="3" y="262">ContainsElements</text><text class="g r" x="165" y="262">S[0:?]</text>
<text class="g" x="3" y="274">ServicedBySystems</text><text class="g r" x="165" y="274">S[0:?]</text>
<text class="g" x="3" y="286">ReferencesElements</text><text class="g r" x="165" y="286">S[0:?]</text></svg></g>
</svg>
